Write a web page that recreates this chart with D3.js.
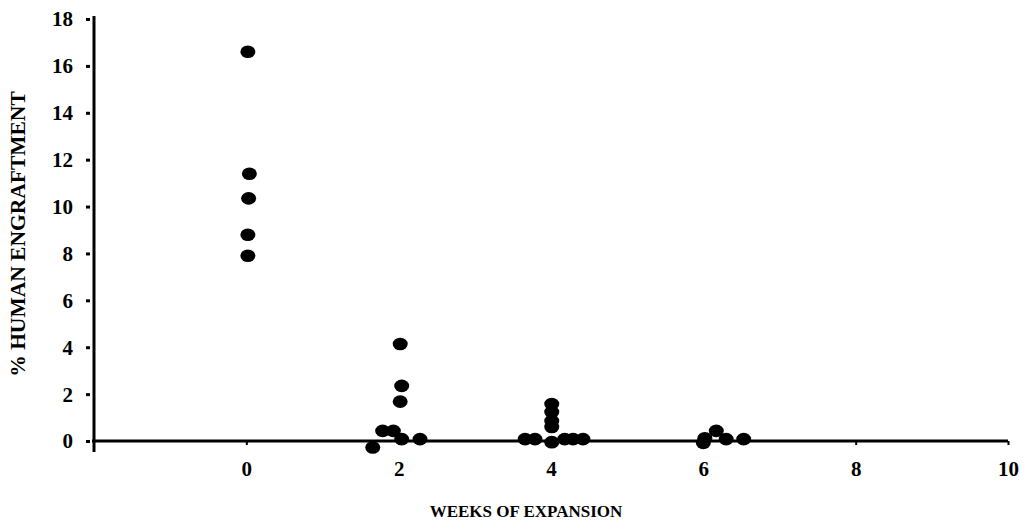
<!DOCTYPE html>
<html><head><meta charset="utf-8">
<script src="https://cdn.jsdelivr.net/npm/d3@7"></script>
<style>
html,body{margin:0;padding:0;background:#fff;}
</style></head>
<body>
<svg id="c" width="1023" height="523"></svg>
<script>
// Data: weeks of expansion (x) and % human engraftment (y)
const weeks = [0.02, 0.04, 0.03, 0.02, 0.02,
  2.02, 2.04, 2.02, 1.79, 1.93, 2.04, 2.28, 1.66,
  4.01, 4.01, 4.01, 4.01, 3.66, 3.79, 4.01, 4.18, 4.29, 4.42,
  6.02, 6.00, 6.17, 6.30, 6.53];
const engraftment = [16.6, 11.4, 10.35, 8.8, 7.9,
  4.14, 2.35, 1.68, 0.43, 0.43, 0.08, 0.08, -0.28,
  1.58, 1.24, 0.85, 0.6, 0.08, 0.08, -0.05, 0.08, 0.08, 0.08,
  0.12, -0.08, 0.43, 0.08, 0.08];
const xTicks = [0, 2, 4, 6, 8, 10];
const yTicks = [0, 2, 4, 6, 8, 10, 12, 14, 16, 18];
const xTitle = "WEEKS OF EXPANSION";
const yTitle = "% HUMAN ENGRAFTMENT";

const FONT = "'Liberation Serif', 'Times New Roman', serif";
const svg = d3.select("#c");
const x = d3.scaleLinear().domain([-2, 10]).range([94, 1008]);
const y = d3.scaleLinear().domain([0, 18]).range([441, 19]);

// axes lines
svg.append("line").attr("x1", x(-2)).attr("x2", x(-2)).attr("y1", y(18) - 3).attr("y2", 452)
  .attr("stroke", "#000").attr("stroke-width", 3);
svg.append("line").attr("x1", x(-2) - 2).attr("x2", x(10)).attr("y1", y(0)).attr("y2", y(0))
  .attr("stroke", "#000").attr("stroke-width", 3);

// y ticks
const yAxis = d3.axisLeft(y).tickValues(yTicks).tickSize(0).tickPadding(21).tickFormat(d3.format("d"));
const gy = svg.append("g").attr("transform", `translate(${x(-2)},0)`).call(yAxis)
  .attr("font-family", FONT).attr("font-weight", "bold").attr("font-size", 21);
gy.select(".domain").remove();
gy.selectAll("text").attr("font-family", FONT).attr("font-weight", "bold").attr("font-size", 21).attr("fill", "#000").attr("dy", "0.33em");
gy.selectAll(".tick").append("rect").attr("x", -8).attr("y", -1.5).attr("width", 4).attr("height", 3).attr("fill", "#000");

// x ticks
const xAxis = d3.axisBottom(x).tickValues(xTicks).tickSize(0).tickPadding(20).tickFormat(d3.format("d"));
const gx = svg.append("g").attr("transform", `translate(0,${y(0)})`).call(xAxis)
  .attr("font-family", FONT).attr("font-weight", "bold").attr("font-size", 21);
gx.select(".domain").remove();
gx.selectAll("text").attr("font-family", FONT).attr("font-weight", "bold").attr("font-size", 21).attr("fill", "#000").attr("dy", "0.71em");
gx.selectAll(".tick").append("rect").attr("x", -1).attr("y", 0).attr("width", 2).attr("height", 4).attr("fill", "#000");

// points
svg.append("g").selectAll("ellipse").data(weeks).join("ellipse")
  .attr("cx", (d) => x(d)).attr("cy", (d, i) => y(engraftment[i]))
  .attr("rx", 7.5).attr("ry", 6.3).attr("fill", "#000");

// titles
svg.append("text").attr("x", 526).attr("y", 517).attr("text-anchor", "middle")
  .attr("font-family", FONT).attr("font-weight", "bold").attr("font-size", 17).text(xTitle);
svg.append("text").attr("transform", "translate(25,234) rotate(-90)").attr("text-anchor", "middle")
  .attr("font-family", FONT).attr("font-weight", "bold").attr("font-size", 21.5).text(yTitle);
</script>
</body></html>
